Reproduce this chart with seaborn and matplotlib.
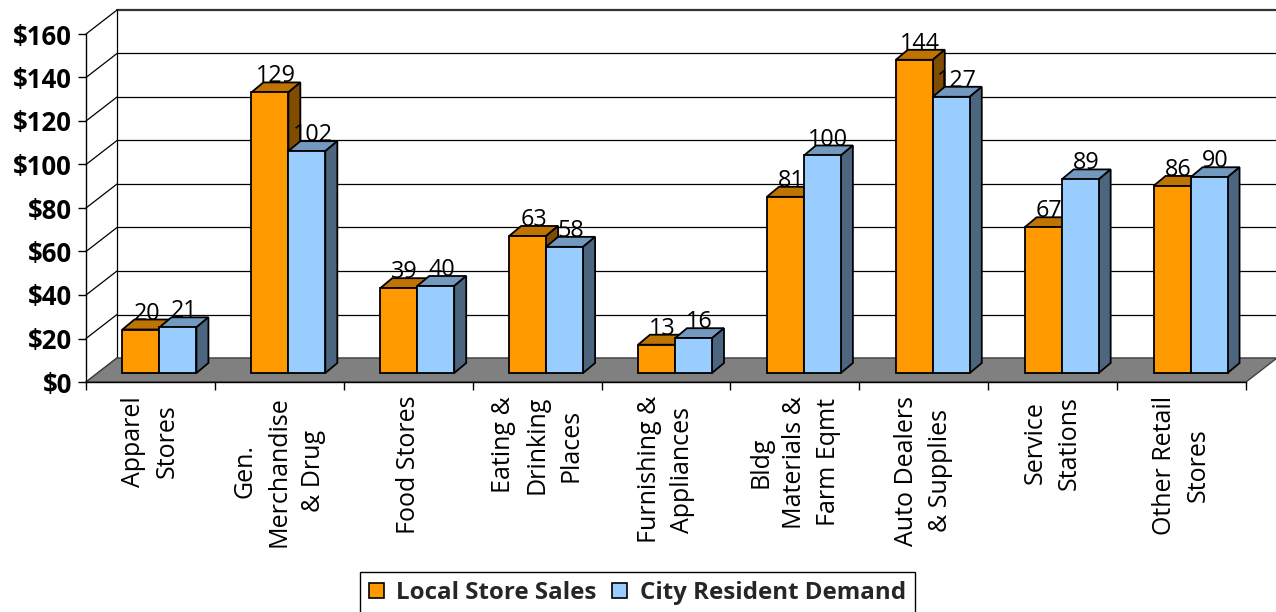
import numpy as np
import pandas as pd
import matplotlib
matplotlib.use("Agg")
import matplotlib.pyplot as plt
import seaborn as sns
from matplotlib.patches import Polygon, Patch

# ---- data -------------------------------------------------------------
categories = [
    "Apparel\nStores",
    "Gen.\nMerchandise\n& Drug",
    "Food Stores",
    "Eating &\nDrinking\nPlaces",
    "Furnishing &\nAppliances",
    "Bldg\nMaterials &\nFarm Eqmt",
    "Auto Dealers\n& Supplies",
    "Service\nStations",
    "Other Retail\nStores",
]
local_sales = [20, 129, 39, 63, 13, 81, 144, 67, 86]
resident_demand = [21, 102, 40, 58, 16, 100, 127, 89, 90]
series_names = ["Local Store Sales", "City Resident Demand"]
y_ticks = list(range(0, 161, 20))

# ---- styling ----------------------------------------------------------
front_colors = ["#FF9900", "#99CCFF"]
top_colors = ["#BF7300", "#7399BF"]
side_colors = ["#804D00", "#4D6680"]

sns.set_theme(style="ticks")
plt.rcParams["font.family"] = ["Open Sans", "DejaVu Sans"]

W, H, DPI = 1276, 612, 100
fig = plt.figure(figsize=(W / DPI, H / DPI), dpi=DPI)
fig.patch.set_facecolor("white")

# front plane of the 3-D box, in pixels
x_left, x_right, y_bottom, y_top = 86, 1246, 382, 34
ax = fig.add_axes([x_left / W, 1 - y_bottom / H,
                   (x_right - x_left) / W, (y_bottom - y_top) / H])
ax.patch.set_visible(False)

df = pd.DataFrame({
    "category": categories * 2,
    "value": local_sales + resident_demand,
    "series": [s for s in series_names for _ in categories],
})

sns.barplot(data=df, x="category", y="value", hue="series",
            order=categories, hue_order=series_names,
            palette=front_colors, saturation=1, width=0.574, dodge=True,
            edgecolor="black", linewidth=1.3, legend=False, ax=ax)

ax.set_xlim(-0.5, len(categories) - 0.5)
ax.set_ylim(0, 160)

# pixel offsets -> data units
px_x = (x_right - x_left) / len(categories)
px_y = (y_bottom - y_top) / 160.0


def to_data(dx, dy):
    return dx / px_x, dy / px_y


wall_dx, wall_dy = to_data(31, 24)   # depth of the whole box
bar_dx, bar_dy = to_data(9, 9)       # bars set back from the front edge
dep_dx, dep_dy = to_data(12, 10)     # depth of each bar

xa, xb = -0.5, len(categories) - 0.5
line_kw = dict(color="black", lw=0.9, clip_on=False)

# back wall gridlines and left wall diagonals
for v in y_ticks:
    top_line = v == y_ticks[-1]
    ax.plot([xa + wall_dx, xb + wall_dx], [v + wall_dy] * 2, zorder=0.5,
            **dict(line_kw, color="#333333" if top_line else "black",
                   lw=1.6 if top_line else 0.9))
    ax.plot([xa, xa + wall_dx], [v, v + wall_dy], zorder=0.5, **line_kw)
ax.plot([xa + wall_dx] * 2, [wall_dy, 160 + wall_dy], zorder=0.5, **line_kw)
ax.plot([xb + wall_dx] * 2, [wall_dy, 160 + wall_dy], zorder=0.5,
        **dict(line_kw, color="#555555"))

# floor
ax.add_patch(Polygon([(xa, 0), (xb, 0), (xb + wall_dx, wall_dy),
                      (xa + wall_dx, wall_dy)],
                     facecolor="#808080", edgecolor="#404040", lw=1.0,
                     zorder=1, clip_on=False))

# bars: shift the front faces back, then add top and side faces
for i, container in enumerate(ax.containers):
    for rect in container.patches:
        h = rect.get_height()
        x = rect.get_x() + bar_dx
        w = rect.get_width()
        rect.set_x(x)
        rect.set_y(bar_dy)
        rect.set_zorder(4 + 2 * i)
        rect.set_clip_on(False)
        y0, y1 = bar_dy, bar_dy + h
        top = Polygon([(x, y1), (x + w, y1), (x + w + dep_dx, y1 + dep_dy),
                       (x + dep_dx, y1 + dep_dy)],
                      facecolor=top_colors[i], edgecolor="black", lw=1.3,
                      zorder=3.5 + 2 * i, clip_on=False)
        side = Polygon([(x + w, y0), (x + w + dep_dx, y0 + dep_dy),
                        (x + w + dep_dx, y1 + dep_dy), (x + w, y1)],
                       facecolor=side_colors[i], edgecolor="black", lw=1.3,
                       zorder=3.5 + 2 * i, clip_on=False)
        ax.add_patch(top)
        ax.add_patch(side)
        ax.text(x + w / 2 + dep_dx / 2, y1 + dep_dy, f"{h:.0f}",
                ha="center", va="baseline", fontsize=16.8, color="black",
                zorder=10, clip_on=False)

# axes: front y axis and front floor edge
for s in ["top", "right"]:
    ax.spines[s].set_visible(False)
for s in ["left", "bottom"]:
    ax.spines[s].set_color("black")
    ax.spines[s].set_linewidth(1.0)
    ax.spines[s].set_zorder(2)

ax.set_yticks(y_ticks)
ax.set_yticklabels([f"${v}" for v in y_ticks], fontweight="bold",
                   fontsize=18.5, color="black")
ax.tick_params(axis="y", direction="out", length=6, width=1, color="black",
               pad=4, left=True)

ax.set_xticks(np.arange(xa, xb + 0.01, 1.0))
ax.set_xticklabels([""] * (len(categories) + 1))
ax.set_xticks(np.arange(len(categories)), minor=True)
ax.set_xticklabels(categories, minor=True, rotation=90, ha="center",
                   va="top", multialignment="center", fontsize=18,
                   color="black", linespacing=1.47)
ax.tick_params(axis="x", which="major", direction="out", length=6, width=1,
               color="black", bottom=True)
ax.tick_params(axis="x", which="minor", length=0, pad=10, bottom=True)
ax.set_xlabel("")
ax.set_ylabel("")

# legend
handles = [Patch(facecolor=c, edgecolor="black", lw=1.2) for c in front_colors]
leg = fig.legend(handles, series_names, loc="upper center",
                 bbox_to_anchor=(637.5 / W, 1 - 572 / H), ncol=2,
                 frameon=True, fancybox=False, edgecolor="black",
                 framealpha=1, prop={"weight": "bold", "size": 17.4},
                 handlelength=0.62, handleheight=0.62, handletextpad=0.5,
                 columnspacing=0.65, borderpad=0.37, borderaxespad=0)
leg.get_frame().set_linewidth(1.0)

fig.savefig("out.png", dpi=DPI)
